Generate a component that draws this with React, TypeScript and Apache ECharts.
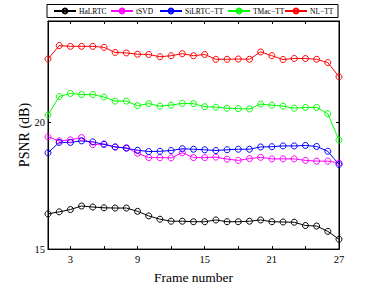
import React, { useEffect, useRef } from "react";
import * as echarts from "echarts";

const frames = [1,2,3,4,5,6,7,8,9,10,11,12,13,14,15,16,17,18,19,20,21,22,23,24,25,26,27];
const seriesNames = ["HaLRTC", "tSVD", "SiLRTC\u2212TT", "TMac\u2212TT", "NL\u2212TT"];
const colors = ["#000000", "#ff00ff", "#0000ff", "#00ff00", "#ff0000"];
const haLRTC = [16.39,16.47,16.56,16.70,16.66,16.63,16.62,16.62,16.49,16.31,16.18,16.10,16.10,16.08,16.08,16.15,16.08,16.08,16.10,16.15,16.08,16.07,16.06,15.93,15.91,15.70,15.39];
const tSVD = [19.43,19.27,19.31,19.40,19.12,19.15,19.03,19.00,18.78,18.61,18.61,18.60,18.80,18.61,18.61,18.63,18.55,18.50,18.57,18.62,18.56,18.56,18.56,18.50,18.47,18.47,18.40];
const siLRTC = [18.80,19.21,19.21,19.27,19.23,19.13,19.03,18.98,18.90,18.85,18.86,18.89,18.96,18.94,18.92,18.89,18.92,18.94,18.94,19.03,19.04,19.07,19.07,19.09,19.05,18.86,18.34];
const tMac = [20.29,21.02,21.14,21.10,21.10,21.00,20.84,20.84,20.66,20.74,20.64,20.68,20.75,20.74,20.62,20.60,20.56,20.54,20.53,20.72,20.68,20.64,20.56,20.59,20.59,20.34,19.30];
const nlTT = [22.50,23.03,23.00,23.00,23.00,22.96,22.76,22.74,22.69,22.68,22.59,22.63,22.71,22.63,22.68,22.49,22.49,22.50,22.49,22.78,22.63,22.48,22.52,22.52,22.49,22.36,21.80];
const xTicks = [3,6,9,12,15,18,21,24,27];
const xLabels = [3,9,15,21,27];
const yLabels = [15,20];

const FONT = "'Liberation Serif', 'Times New Roman', serif";
const legendLefts = [53, 110, 159, 227, 284];

export default function App() {
  const ref = useRef<HTMLDivElement>(null);
  useEffect(() => {
    if (!ref.current) return;
    const chart = echarts.init(ref.current, null, { renderer: "svg" });
    const all = [haLRTC, tSVD, siLRTC, tMac, nlTT];
    const tick = { show: true, inside: true, length: 3, lineStyle: { color: "#000", width: 1 } };
    chart.setOption({
      animation: false,
      backgroundColor: "#fff",
      textStyle: { fontFamily: FONT },
      grid: { left: 48, right: 35, top: 21, bottom: 32, show: true, borderColor: "#000", borderWidth: 1, backgroundColor: "transparent" },
      graphic: [
        { type: "rect", shape: { x: 47, y: 4.5, width: 291, height: 13 }, style: { fill: "#fff", stroke: "#000", lineWidth: 1 }, z: 0 },
      ],
      legend: seriesNames.map((n, i) => ({
        left: legendLefts[i],
        top: 7,
        itemWidth: 22,
        itemHeight: 6,
        itemGap: 0,
        padding: 0,
        textStyle: { fontFamily: FONT, fontSize: 7.5, color: "#000", padding: [0, 0, 0, -2] },
        data: [n],
        z: 5,
      })),
      xAxis: [
        {
          type: "value", min: 1, max: 27, position: "bottom",
          name: "Frame number", nameLocation: "middle", nameGap: 19,
          nameTextStyle: { fontFamily: FONT, fontSize: 13.5, color: "#000" },
          axisLine: { show: true, lineStyle: { color: "#000" } },
          axisTick: { ...tick, customValues: xTicks },
          axisLabel: { customValues: xLabels, fontFamily: FONT, fontSize: 10.5, color: "#000", margin: 5 },
          splitLine: { show: false },
        },
        {
          type: "value", min: 1, max: 27, position: "top",
          axisLine: { show: true, lineStyle: { color: "#000" } },
          axisTick: { ...tick, customValues: xTicks },
          axisLabel: { show: false },
          splitLine: { show: false },
        },
      ],
      yAxis: [
        {
          type: "value", min: 15, max: 24, position: "left",
          name: "PSNR (dB)", nameLocation: "middle", nameGap: 17, nameRotate: 90, nameMoveOverlap: false,
          nameTextStyle: { fontFamily: FONT, fontSize: 14, color: "#000" },
          axisLine: { show: true, lineStyle: { color: "#000" } },
          axisTick: { ...tick, customValues: yLabels },
          axisLabel: { customValues: yLabels, fontFamily: FONT, fontSize: 10.5, color: "#000", margin: 3, hideOverlap: false },
          splitLine: { show: false },
        },
        {
          type: "value", min: 15, max: 24, position: "right",
          axisLine: { show: true, lineStyle: { color: "#000" } },
          axisTick: { ...tick, customValues: yLabels },
          axisLabel: { show: false },
          splitLine: { show: false },
        },
      ],
      series: seriesNames.map((n, i) => ({
        name: n,
        type: "line",
        xAxisIndex: 0,
        yAxisIndex: 0,
        data: frames.map((f, k) => [f, all[i][k]]),
        symbol: "circle",
        symbolSize: 6,
        showAllSymbol: true,
        color: colors[i],
        lineStyle: { color: colors[i], width: 1 },
        itemStyle: { color: "rgba(255,255,255,0)", borderColor: colors[i], borderWidth: 1 },
        emphasis: { disabled: true },
      })),
    });
    return () => chart.dispose();
  }, []);
  return <div ref={ref} style={{ width: 374, height: 289, position: "absolute", left: 0, top: 0 }} />;
}
